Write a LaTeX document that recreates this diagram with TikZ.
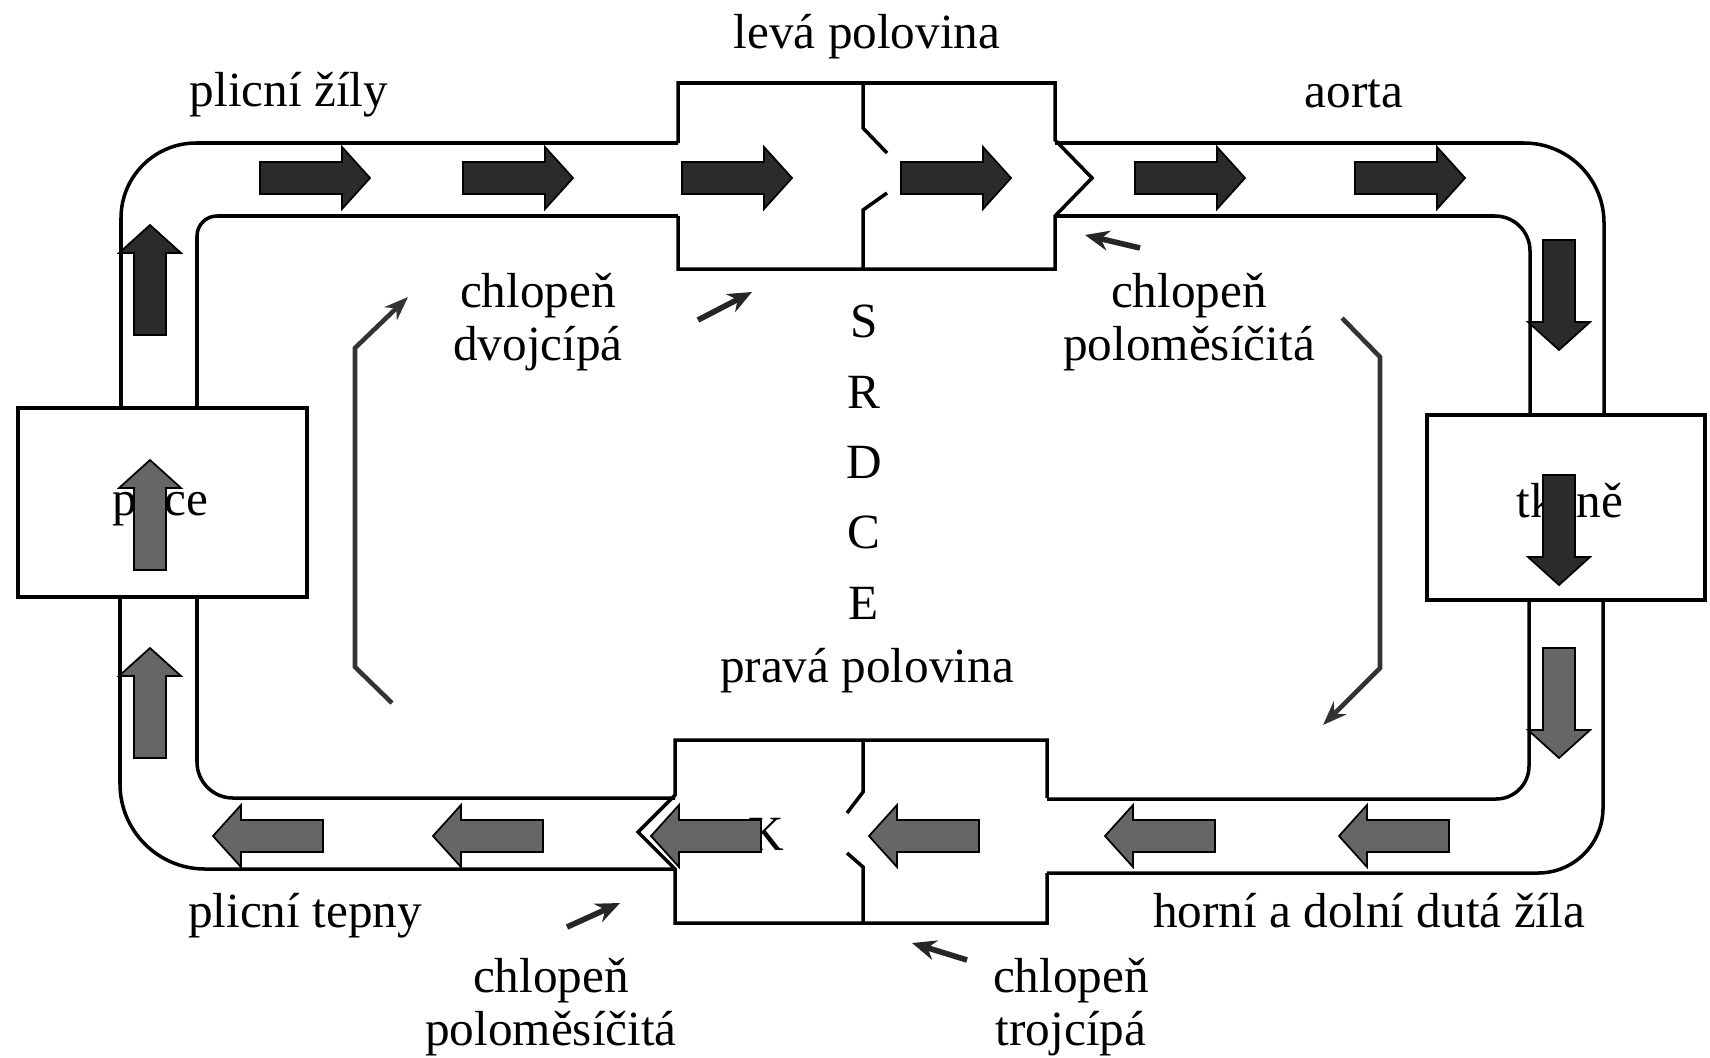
\documentclass[tikz,border=0pt]{standalone}
\usepackage{fontspec}
\setmainfont{Liberation Serif}
\usetikzlibrary{arrows.meta}
\definecolor{darkflow}{HTML}{2B2B2B}
\definecolor{lightflow}{HTML}{666666}
\tikzset{
  flow/.pic={\draw[pic actions] (-55,-16) -- (27,-16) -- (27,-31) -- (55,0) -- (27,31) -- (27,16) -- (-55,16) -- cycle;},
}

\begin{document}
\begin{tikzpicture}[x=0.01cm, y=-0.01cm, line width=1pt,
  every node/.style={font=\fontsize{14}{14.8}\selectfont, inner sep=0pt, anchor=base, align=center},
  dark/.style={fill=darkflow, draw=black, line width=0.5pt},
  light/.style={fill=lightflow, draw=black, line width=0.5pt},
  pointer/.style={-{Stealth[length=2.4mm,width=2mm]}, line width=1.6pt, draw=black!85},
  course/.style={-{Stealth[length=2.4mm,width=1.8mm]}, line width=1.3pt, draw=black!80}]
  \useasboundingbox (0,0) rectangle (1710,1057);

  % labels (multi-line ones sit on their last baseline)
  \node (leva) at (867,48) {levá polovina};
  \node (zily) at (289,106) {plicní žíly};
  \node (aorta) at (1354,107) {aorta};
  \node (dvoj) at (538,360) {chlopeň\\dvojcípá};
  \node (polohore) at (1189,360) {chlopeň\\poloměsíčitá};
  \node[font=\fontsize{14}{20}\selectfont] (srdce) at (864,619) {S\\R\\D\\C\\E};
  \node (prava) at (867,682) {pravá polovina};
  \node (tepny) at (305,927) {plicní tepny};
  \node (duta) at (1369,927) {horní a dolní dutá žíla};
  \node (polodole) at (551,1045) {chlopeň\\poloměsíčitá};
  \node (troj) at (1071,1045) {chlopeň\\trojcípá};
  \node (plice) at (160,515) {plíce};
  \node (tkane) at (1570,517) {tkáně};
  \node (k) at (766,850) {K};

  % boxes
  \draw (18,408) rectangle (307,597);
  \draw (1427,415) rectangle (1705,600);
  \draw (678,143) -- (678,83) -- (1055,83) -- (1055,140) -- (1092,178) -- (1055,216) -- (1055,269) -- (678,269) -- (678,216);
  \draw (863,83) -- (863,128) -- (887,153);
  \draw (887,193) -- (863,210) -- (863,269);
  \draw (1047,798) -- (1047,740) -- (675,740) -- (675,795) -- (638,832) -- (675,869) -- (675,923) -- (1047,923) -- (1047,873);
  \draw (863,740) -- (863,792) -- (847,813);
  \draw (847,853) -- (863,867) -- (863,923);

  % vessels
  \draw[rounded corners=7.5mm] (121,408) -- (121,143) -- (678,143);
  \draw[rounded corners=8mm] (1055,143) -- (1604,143) -- (1604,415);
  \draw[rounded corners=6.5mm] (1603,600) -- (1603,873) -- (1047,873);
  \draw[rounded corners=8.5mm] (675,869) -- (120,869) -- (120,597);
  \draw[rounded corners=2mm] (197,408) -- (197,216) -- (678,216);
  \draw[rounded corners=3.5mm] (1055,216) -- (1530,216) -- (1530,415);
  \draw[rounded corners=3.3mm] (1529,600) -- (1529,799) -- (1047,799);
  \draw[rounded corners=3.6mm] (675,798) -- (197,798) -- (197,597);

  % blood flow
  \foreach \x in {315,518,737,956,1190,1410} \pic[dark] at (\x,178) {flow};
  \foreach \x in {268,488,706,924,1160,1394} \pic[light, rotate=180] at (\x,836) {flow};
  \pic[dark, rotate=90] at (150,280) {flow};
  \foreach \y in {515,703} \pic[light, rotate=90] at (150,\y) {flow};
  \foreach \y in {295,530} \pic[dark, rotate=-90] at (1559,\y) {flow};
  \pic[light, rotate=-90] at (1559,703) {flow};

  % course through the heart
  \coordinate (leftstart) at (392,703);
  \coordinate (leftend) at (408,297);
  \coordinate (rightstart) at (1342,318);
  \coordinate (rightend) at (1323,725);
  \draw[course] (leftstart) -- (355,667) -- (355,348) -- (leftend);
  \draw[course] (rightstart) -- (1380,357) -- (1380,668) -- (rightend);

  % valves
  \coordinate (dvojtail) at (698,320);
  \coordinate (dvojtip) at (752,292);
  \coordinate (aorttail) at (1140,248);
  \coordinate (aorttip) at (1085,235);
  \coordinate (plictail) at (567,927);
  \coordinate (plictip) at (620,903);
  \coordinate (trojtail) at (967,960);
  \coordinate (trojtip) at (912,943);
  \draw[pointer] (dvojtail) -- (dvojtip);
  \draw[pointer] (aorttail) -- (aorttip);
  \draw[pointer] (plictail) -- (plictip);
  \draw[pointer] (trojtail) -- (trojtip);
\end{tikzpicture}
\end{document}
